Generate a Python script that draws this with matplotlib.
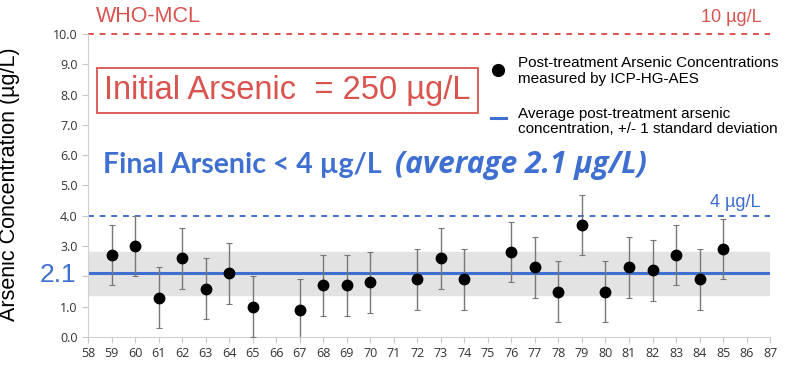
import matplotlib
matplotlib.use("Agg")
from matplotlib import pyplot as plt
from matplotlib.patches import Rectangle

# sample numbers and measured arsenic (ug/L)
sample_no = [59, 60, 61, 62, 63, 64, 65, 67, 68, 69, 70, 72,
             73, 74, 76, 77, 78, 79, 80, 81, 82, 83, 84, 85]
arsenic = [2.7, 3.0, 1.3, 2.6, 1.6, 2.1, 1.0, 0.9, 1.7, 1.7, 1.8, 1.9,
           2.6, 1.9, 2.8, 2.3, 1.5, 3.7, 1.5, 2.3, 2.2, 2.7, 1.9, 2.9]
arsenic_err = [1.0] * len(sample_no)

avg = 2.1
sd = 0.7
who_mcl = 10.0
target = 4.0

x_ticks = list(range(58, 88))
y_ticks = [i * 1.0 for i in range(0, 11)]

red = "#d9534f"
blue = "#3f6fd0"

fig = plt.figure(figsize=(7.95, 3.66), dpi=100)
ax = fig.add_axes([0.1107, 0.0792, 0.858, 0.828])

ax.axhspan(avg - sd, avg + sd, color="#e3e3e3", zorder=0)
ax.axhline(avg, color=blue, lw=2.2, zorder=2)
ax.axhline(who_mcl, color=red, lw=1.4, ls=(0, (3, 3)), zorder=2, clip_on=False)
ax.axhline(target, color=blue, lw=1.4, ls=(0, (3, 3)), zorder=2)

ax.errorbar(sample_no, arsenic, yerr=arsenic_err, fmt="o", color="black",
            ms=7.5, ecolor="#777777", elinewidth=1.0, capsize=2, capthick=0.8,
            zorder=3)

ax.set_xlim(58, 87)
ax.set_ylim(0, 10)
ax.set_xticks(x_ticks)
ax.set_xticklabels([str(v) for v in x_ticks], fontsize=9, family="Open Sans")
ax.set_yticks(y_ticks)
# the 2.0 label is covered by the big "2.1" in the original
ax.set_yticklabels(["" if v == 2.0 else "%.1f" % v for v in y_ticks],
                   fontsize=9, family="Open Sans")
for s in ["top", "right"]:
    ax.spines[s].set_visible(False)
for s in ["left", "bottom"]:
    ax.spines[s].set_color("#d0d0d0")
ax.tick_params(colors="#c8c8c8", length=4, width=0.8, labelcolor="#333333")

ax.set_ylabel("Arsenic Concentration (µg/L)", fontsize=15.5, family="Liberation Sans")
ax.yaxis.set_label_coords(-0.1, 0.505)

# annotations
fig.text(0.121, 0.955, "WHO-MCL", color=red, fontsize=15.5, family="Liberation Sans",
         va="center")
fig.text(0.958, 0.951, "10 µg/L", color=red, fontsize=13, family="Liberation Sans",
         ha="right", va="center")
fig.text(0.131, 0.754, "Initial Arsenic  = 250 µg/L", color=red, fontsize=23.5,
         family="Liberation Sans", va="center")
fig.patches.append(Rectangle((0.122, 0.691), 0.479, 0.123, transform=fig.transFigure,
                             fill=False, edgecolor=red, lw=1.3))
fig.text(0.13, 0.549, "Final Arsenic < 4 µg/L", color=blue, fontsize=20.5,
         family="Lato", weight="bold", va="center")
fig.text(0.497, 0.549, "(average 2.1 µg/L)", color=blue, fontsize=21.5,
         family="Open Sans", weight="bold", style="italic", va="center")
fig.text(0.957, 0.448, "4 µg/L", color=blue, fontsize=13, family="Liberation Sans",
         ha="right", va="center")
fig.text(0.096, 0.249, "2.1", color=blue, fontsize=19, family="Liberation Sans",
         ha="right", va="center")

# legend
fig.lines.append(plt.Line2D([0.626], [0.809], transform=fig.transFigure, marker="o",
                            color="black", ms=8.5))
fig.text(0.651, 0.806, "Post-treatment Arsenic Concentrations\nmeasured by ICP-HG-AES",
         fontsize=11, family="Liberation Sans", va="center", linespacing=1.1)
fig.lines.append(plt.Line2D([0.617, 0.636], [0.678, 0.678], transform=fig.transFigure,
                            color=blue, lw=2.2))
fig.text(0.651, 0.669, "Average post-treatment arsenic\nconcentration, +/- 1 standard deviation",
         fontsize=11, family="Liberation Sans", va="center", linespacing=1.1)

fig.savefig("out.png", dpi=100)
